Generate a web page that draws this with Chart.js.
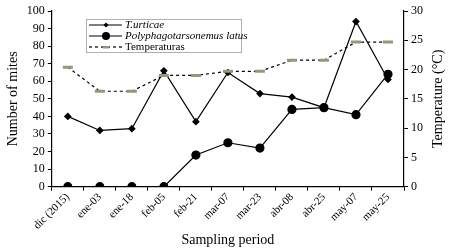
<!DOCTYPE html>
<html>
<head>
<meta charset="utf-8">
<script src="https://cdn.jsdelivr.net/npm/chart.js@4/dist/chart.umd.min.js"></script>
<style>
  html, body { margin: 0; padding: 0; background: #fff; }
  #wrap { width: 450px; height: 249px; }
</style>
</head>
<body>
<div id="wrap"><canvas id="miteChart"></canvas></div>
<script>
// data
let periods = ["dic (2015)", "ene-03", "ene-18", "feb-05", "feb-21", "mar-07", "mar-23", "abr-08", "abr-25", "may-07", "may-25"];
let urticae = [40, 32, 33, 66, 37, 65, 53, 51, 45, 94, 61];
let polyLatus = [0, 0, 0, 0, 18, 25, 22, 44, 45, 41, 64];
let temps = [20.4, 16.3, 16.3, 19.0, 19.0, 19.7, 19.7, 21.6, 21.6, 24.7, 24.7];

let serif = "'Liberation Serif', 'Times New Roman', serif";

// boxed legend inside the plot + right axis title read bottom-to-top
let extras = {
  id: 'extras',
  afterDraw(chart) {
    let ctx = chart.ctx;
    let x = 86, y = 19, w = 155, h = 33;
    ctx.save();
    ctx.fillStyle = '#fff';
    ctx.fillRect(x, y, w, h);
    ctx.strokeStyle = '#b0b0b0';
    ctx.lineWidth = 1;
    ctx.strokeRect(x + 0.5, y + 0.5, w, h);
    let rows = [
      { label: 'T.urticae', italic: true, dash: [], mark: 'diamond' },
      { label: 'Polyphagotarsonemus latus', italic: true, dash: [], mark: 'circle' },
      { label: 'Temperaturas', italic: false, dash: [3, 3], mark: 'bar' }
    ];
    rows.forEach((r, i) => {
      let ry = y + 6 + i * 11;
      ctx.strokeStyle = '#000';
      ctx.lineWidth = 1.2;
      ctx.setLineDash(r.dash);
      ctx.beginPath();
      ctx.moveTo(x + 3, ry);
      ctx.lineTo(x + 36, ry);
      ctx.stroke();
      ctx.setLineDash([]);
      let cx = x + 20;
      if (r.mark == 'diamond') {
        ctx.fillStyle = '#000';
        ctx.beginPath();
        ctx.moveTo(cx, ry - 2.5); ctx.lineTo(cx + 2.5, ry); ctx.lineTo(cx, ry + 2.5); ctx.lineTo(cx - 2.5, ry);
        ctx.fill();
      } else if (r.mark == 'circle') {
        ctx.fillStyle = '#000';
        ctx.beginPath();
        ctx.arc(cx, ry, 4, 0, Math.PI * 2);
        ctx.fill();
      } else {
        ctx.fillStyle = '#8f9a78';
        ctx.fillRect(cx - 3, ry - 1, 6, 2.5);
      }
      ctx.fillStyle = '#000';
      ctx.font = (r.italic ? 'italic ' : '') + '11px ' + serif;
      ctx.textBaseline = 'middle';
      ctx.fillText(r.label, x + 39, ry);
    });

    let area = chart.chartArea;
    ctx.translate(438, (area.top + area.bottom) / 2);
    ctx.rotate(-Math.PI / 2);
    ctx.font = '14px ' + serif;
    ctx.textAlign = 'center';
    ctx.textBaseline = 'middle';
    ctx.fillText('Temperature (°C)', 0, 0);
    ctx.restore();
  }
};

let miteChart = document.getElementById('miteChart').getContext('2d');

let chart1 = new Chart(miteChart, {
  type: 'line',
  data: {
    labels: periods,
    datasets: [{
        data: temps,
        label: "Temperaturas",
        yAxisID: 'y1',
        borderColor: '#000',
        borderWidth: 1.2,
        borderDash: [3, 3],
        pointStyle: 'line',
        pointRadius: 5,
        pointBorderWidth: 3,
        pointBorderColor: '#8f9a78',
        pointBackgroundColor: '#8f9a78',
        fill: false
      }, {
        data: polyLatus,
        label: "Polyphagotarsonemus latus",
        yAxisID: 'y',
        borderColor: '#000',
        backgroundColor: '#000',
        borderWidth: 1.2,
        pointStyle: 'circle',
        pointRadius: 4,
        fill: false
      }, {
        data: urticae,
        label: "T.urticae",
        yAxisID: 'y',
        borderColor: '#000',
        backgroundColor: '#000',
        borderWidth: 1.2,
        pointStyle: 'rectRot',
        pointRadius: 3,
        fill: false
      }
    ]
  },
  options: {
    responsive: true,
    maintainAspectRatio: false,
    animation: false,
    layout: { padding: { top: 11, right: 24, bottom: 0, left: 3 } },
    plugins: {
      legend: { display: false },
      tooltip: { enabled: false }
    },
    scales: {
      x: {
        offset: true,
        grid: { display: true, offset: true, drawOnChartArea: false, drawTicks: true, tickLength: 4, color: '#000' },
        border: { color: '#000', width: 1.2 },
        ticks: { color: '#000', font: { family: serif, size: 11 }, maxRotation: 45, minRotation: 45, padding: 0, autoSkip: false },
        title: { display: true, text: 'Sampling period', color: '#000', font: { family: serif, size: 14 }, padding: { top: 0, bottom: 0 } }
      },
      y: {
        position: 'left',
        min: 0, max: 100,
        grid: { drawOnChartArea: false, drawTicks: true, tickLength: 4, color: '#000' },
        border: { color: '#000', width: 1.2 },
        ticks: { stepSize: 10, autoSkip: false, color: '#000', font: { family: serif, size: 12 }, padding: 3 },
        title: { display: true, text: 'Number of mites', color: '#000', font: { family: serif, size: 14 }, padding: 2 }
      },
      y1: {
        position: 'right',
        min: 0, max: 30,
        grid: { drawOnChartArea: false, drawTicks: true, tickLength: 4, color: '#000' },
        border: { color: '#000', width: 1.2 },
        ticks: { stepSize: 5, autoSkip: false, color: '#000', font: { family: serif, size: 12 }, padding: 3 },
        title: { display: false }
      }
    }
  },
  plugins: [extras]
});
</script>
</body>
</html>
